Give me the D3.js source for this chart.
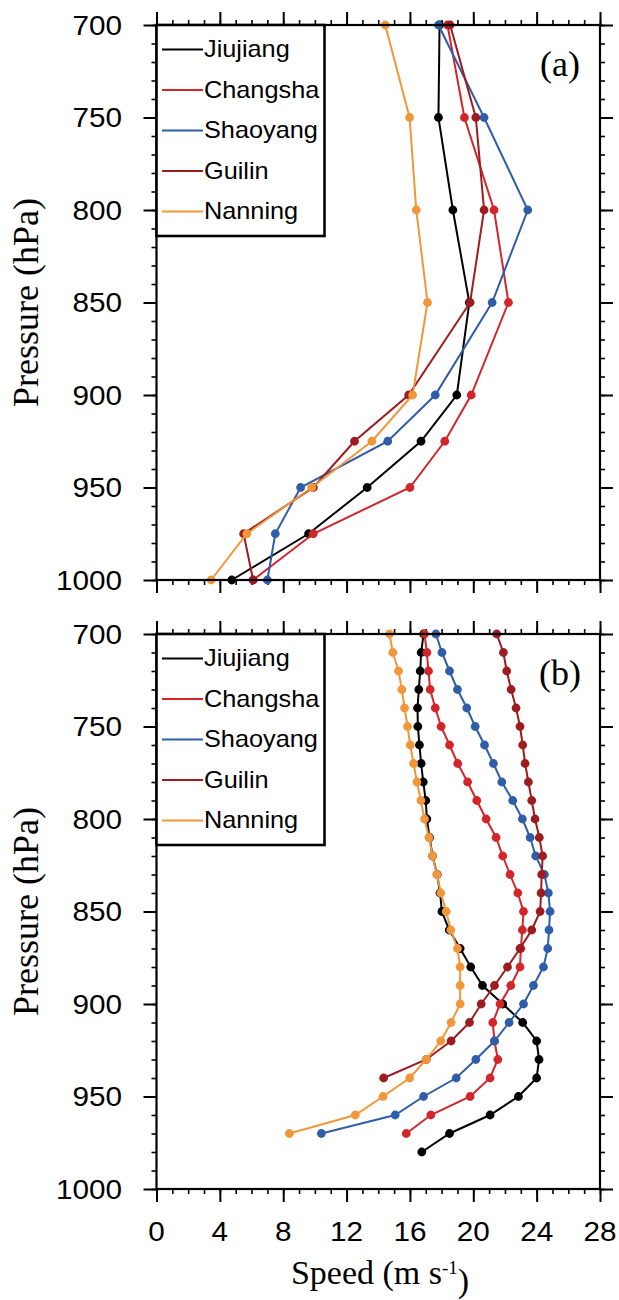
<!DOCTYPE html>
<html><head><meta charset="utf-8">
<script src="https://cdn.jsdelivr.net/npm/d3@7"></script>
<style>body{margin:0;background:#fff}</style>
</head><body>
<svg id="c" width="619" height="1300"></svg>
<script>
const stations = ["Jiujiang","Changsha","Shaoyang","Guilin","Nanning"];
const colors = ["#000000","#d2262b","#2f5da8","#9c1c1f","#f2963a"];
const xTicks = [0,4,8,12,16,20,24,28];
const yTicks = [700,750,800,850,900,950,1000];

// Panel (a)
const levelsA = [700,750,800,850,900,925,950,975,1000];
const a_Jiujiang = [17.87,17.8,18.71,19.75,18.96,16.7,13.3,9.6,4.75];
const a_Changsha = [18.37,19.44,21.31,22.22,19.87,18.2,16.0,9.9,6.1];
const a_Shaoyang = [17.8,20.68,23.44,21.19,17.6,14.6,9.1,7.5,7.0];
const a_Guilin   = [18.54,20.16,20.68,19.8,15.92,12.5,9.9,5.5,6.1];
const a_Nanning  = [14.44,15.98,16.4,17.11,16.17,13.6,9.8,5.7,3.45];

// Panel (b)
const levelsB = [700,710,720,730,740,750,760,770,780,790,800,810,820,830,840,850,860,870,880,890,900,910,920,930,940,950,960,970,980];
const b_Jiujiang = [16.86,16.71,16.65,16.56,16.48,16.5,16.6,16.71,16.84,17.0,17.07,17.24,17.43,17.72,17.9,18.02,18.48,19.17,19.84,20.58,21.86,23.12,24.0,24.15,24.0,22.85,21.06,18.5,16.75];
const b_Changsha = [16.92,17.07,17.17,17.28,17.6,17.97,18.5,19.02,19.64,20.22,20.81,21.44,21.86,22.32,22.81,23.17,23.1,23.0,22.95,22.37,21.69,21.23,21.34,21.55,21.06,19.8,17.32,15.77];
const b_Shaoyang = [17.64,18.02,18.5,19.0,19.59,20.12,20.71,21.27,21.8,22.49,23.1,23.59,23.94,24.49,24.74,24.85,24.78,24.7,24.43,23.8,23.17,22.26,21.34,20.16,18.92,16.86,15.07,10.41];
const b_Guilin   = [21.48,21.9,22.11,22.39,22.7,22.95,23.12,23.27,23.48,23.69,23.9,24.17,24.38,24.32,24.28,24.22,23.69,22.95,22.16,21.34,20.5,19.76,18.6,17.03,14.34];
const b_Nanning  = [14.71,14.92,15.28,15.49,15.66,15.85,16.02,16.23,16.44,16.69,16.92,17.2,17.43,17.7,17.95,18.29,18.58,19.0,19.17,19.17,19.17,18.6,17.95,17.03,15.98,14.3,12.55,8.39];

const svg = d3.select("#c");
const X0 = 156.5, X1 = 600;
const x = d3.scaleLinear().domain([0,28]).range([X0,X1]);

const panels = [
  {label:"(a)", top:25, bot:580, levels:levelsA, series:[a_Jiujiang,a_Changsha,a_Shaoyang,a_Guilin,a_Nanning], xlabels:false},
  {label:"(b)", top:634, bot:1189, levels:levelsB, series:[b_Jiujiang,b_Changsha,b_Shaoyang,b_Guilin,b_Nanning], xlabels:true}
];

const SANS = "'Liberation Sans', Arial, Helvetica, sans-serif";
const SERIF = "'Liberation Serif', 'Times New Roman', serif";

function styleAxis(g, w){
  g.select(".domain").remove();
  g.selectAll(".tick line").attr("stroke","#000").attr("stroke-width",w);
  g.selectAll(".tick text").remove();
}

panels.forEach(p=>{
  const y = d3.scaleLinear().domain([700,1000]).range([p.top,p.bot]);
  const g = svg.append("g");

  const minorX = d3.range(0,29,1), majorX = xTicks;
  const minorY = d3.range(700,1001,10), majorY = yTicks;
  const axes = [
    [d3.axisBottom(x), `translate(0,${p.bot})`, minorX, majorX],
    [d3.axisTop(x), `translate(0,${p.top})`, minorX, majorX],
    [d3.axisLeft(y), `translate(${X0},0)`, minorY, majorY],
    [d3.axisRight(y), `translate(${X1},0)`, minorY, majorY]
  ];
  axes.forEach(([ax,tr,mn,mj])=>{
    g.append("g").attr("transform",tr).call(ax.tickValues(mn).tickSize(5).tickFormat(""))
      .call(s=>styleAxis(s,1.6));
    g.append("g").attr("transform",tr).call(ax.tickValues(mj).tickSize(13).tickFormat(""))
      .call(s=>styleAxis(s,2));
  });

  g.selectAll(".ylab").data(yTicks).join("text")
    .attr("transform",d=>`translate(122,${y(d)}) scale(1.1,1)`)
    .attr("dy","0.36em").attr("text-anchor","end")
    .style("font-family",SANS).style("font-size","27px").text(d=>d);

  if(p.xlabels){
    g.selectAll(".xlab").data(xTicks).join("text")
      .attr("transform",d=>`translate(${x(d)},${p.bot+52}) scale(1.1,1)`)
      .attr("text-anchor","middle")
      .style("font-family",SANS).style("font-size","27px").text(d=>d);
  }

  p.series.forEach((vals,i)=>{
    const pts = vals.map((v,k)=>[x(v), y(p.levels[k])]);
    g.append("path").attr("d", d3.line()(pts))
      .attr("fill","none").attr("stroke",colors[i]).attr("stroke-width",2);
    g.selectAll(null).data(pts).join("circle")
      .attr("cx",d=>d[0]).attr("cy",d=>d[1]).attr("r",4.4).attr("fill",colors[i]);
  });

  g.append("rect").attr("x",X0).attr("y",p.top).attr("width",X1-X0).attr("height",p.bot-p.top)
    .attr("fill","none").attr("stroke","#000").attr("stroke-width",2.2);

  const lg = g.append("g");
  lg.append("rect").attr("x",X0).attr("y",p.top).attr("width",168).attr("height",211)
    .attr("fill","#fff").attr("stroke","#000").attr("stroke-width",2.6);
  stations.forEach((s,i)=>{
    const ly = p.top + 24.5 + i*40.5;
    lg.append("line").attr("x1",162).attr("x2",203).attr("y1",ly).attr("y2",ly)
      .attr("stroke",colors[i]).attr("stroke-width",2);
    lg.append("text").attr("transform",`translate(204,${ly+7.5}) scale(1.1,1)`)
      .style("font-family",SANS).style("font-size","23px").text(s);
  });

  g.append("text").attr("x",560).attr("y",p.top+51).attr("text-anchor","middle")
    .style("font-family",SERIF).style("font-size","36px").text(p.label);

  g.append("text").attr("transform",`translate(38,${(p.top+p.bot)/2}) rotate(-90)`)
    .attr("text-anchor","middle").style("font-family",SERIF).style("font-size","36px")
    .text("Pressure (hPa)");
});

const xt = svg.append("text").attr("x",380).attr("y",1284).attr("text-anchor","middle")
  .style("font-family",SERIF).style("font-size","34px");
xt.append("tspan").text("Speed (m s");
xt.append("tspan").attr("dy","-0.55em").style("font-size","19px").text("-1");
xt.append("tspan").attr("dy","0.55em").text(")");
</script>
</body></html>
